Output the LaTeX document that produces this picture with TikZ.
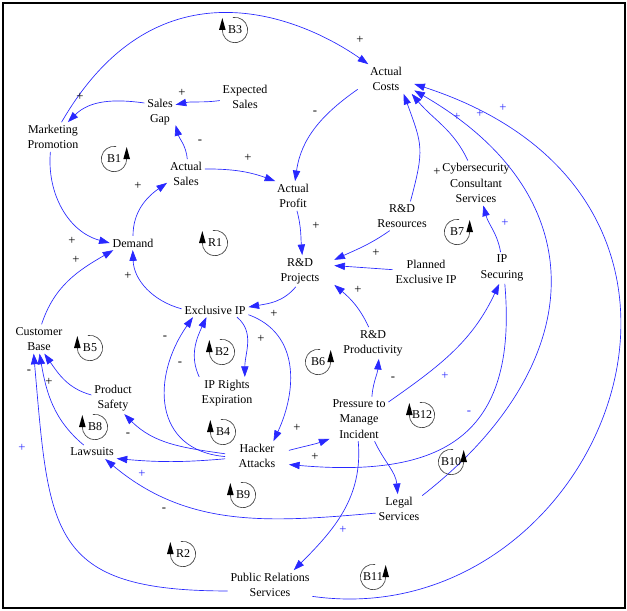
\documentclass[tikz,border=0pt]{standalone}
\usepackage{fontspec}
\setmainfont{Liberation Serif}
\usetikzlibrary{arrows.meta}
\definecolor{linkblue}{RGB}{40,40,255}
\definecolor{loopgray}{RGB}{70,70,70}
\tikzset{
  var/.style={align=center, inner sep=2pt, font=\fontsize{9}{11.5}\selectfont},
  link/.style={draw=linkblue, line width=0.5pt, -{Triangle[length=8pt,width=5.5pt]}},
  pol/.style={inner sep=0pt, font=\fontsize{9.5}{9.5}\selectfont},
  polblue/.style={pol, text=linkblue},
  loopcirc/.style={draw=loopgray, line width=0.5pt},
  looplabel/.style={inner sep=0pt, font=\fontsize{9}{9}\selectfont},
  loopL/.pic={
    \draw[loopcirc] (100:9.5pt) arc[start angle=100, end angle=-180, radius=9.5pt];
    \fill[black] (-12pt,0pt) -- (-7pt,0pt) -- (-9.5pt,9pt) -- cycle;
    \node[looplabel] (-t) at (0,0) {#1};
  },
  loopR/.pic={
    \draw[loopcirc] (80:9.5pt) arc[start angle=80, end angle=360, radius=9.5pt];
    \fill[black] (12pt,0pt) -- (7pt,0pt) -- (9.5pt,9pt) -- cycle;
    \node[looplabel] (-t) at (0,0) {#1};
  },
}
\begin{document}
\begin{tikzpicture}[x=0.75pt,y=-0.75pt]
\useasboundingbox (0,0) rectangle (627,610);
\draw[line width=1.5pt] (2.5,3) rectangle (624.5,607.5);

% variables
\node[var, inner xsep=9pt] (ac) at (386,79) {Actual\\Costs};
\node[var] (es) at (245,97) {Expected\\Sales};
\node[var] (sg) at (160,112) {Sales\\Gap};
\node[var] (mp) at (53,137) {Marketing\\Promotion};
\node[var] (as) at (186,174) {Actual\\Sales};
\node[var] (apf) at (293,196) {Actual\\Profit};
\node[var] (cyb) at (476,183) {Cybersecurity\\Consultant\\Services};
\node[var] (dem) at (133,243) {Demand};
\node[var] (rdr) at (402,216) {R\&D\\Resources};
\node[var, inner xsep=11pt] (rdp) at (300,271) {R\&D\\Projects};
\node[var] (pei) at (426,272) {Planned\\Exclusive IP};
\node[var] (ips) at (502,268) {IP\\Securing};
\node[var] (eip) at (215,310) {Exclusive IP};
\node[var] (cb) at (39,339) {Customer\\Base};
\node[var] (prod) at (373,343) {R\&D\\Productivity};
\node[var] (iprx) at (227,393) {IP Rights\\Expiration};
\node[var] (ps) at (113,398) {Product\\Safety};
\node[var] (prs) at (359,419) {Pressure to\\Manage\\Incident};
\node[var] (law) at (92,452) {Lawsuits};
\node[var, inner xsep=10pt] (hk) at (257,456) {Hacker\\Attacks};
\node[var] (ls) at (399,509) {Legal\\Services};
\node[var] (pr) at (270,585) {Public Relations\\Services};

% connectors
\draw[link] (mp.60) .. controls +(60:145pt) and +(145:60pt) .. (ac.140);
\draw[link] (sg.150) to[out=172,in=45] (mp.45);
\draw[link] (es.188) to[out=188,in=12] (sg.25);
\draw[link] (as.85) to[out=95,in=-75] (sg.-40);
\draw[link] (as.15) to[out=0,in=160] (apf.140);
\draw[link] (ac.200) to[out=215,in=82] (apf.82);
\draw[link] (mp.-100) to[out=-95,in=165] (dem.180);
\draw[link] (dem.90) to[out=90,in=215] (as.205);
\draw[link] (apf.-75) to[out=-75,in=95] (rdp.82);
\draw[link] (rdr.-130) to[out=215,in=25] (rdp.18);
\draw[link] (pei.176) -- (rdp.9);
\draw[link] (rdr.60) to[out=75,in=-70,looseness=1.3] (ac.-40);
\draw[link] (cyb.110) to[out=115,in=-50] (ac.-30);
\draw[link] (ips.95) to[out=100,in=-75] (cyb.-72);
\draw[link] (eip.178) to[out=165,in=-88] (dem.-92);
\draw[link] (cb.80) to[out=72,in=210] (dem.200);
\draw[link] (rdp.-105) to[out=230,in=10] (eip.5);
\draw[link] (eip.-18) to[out=-40,in=90] (iprx.42);
\draw[link] (iprx.150) to[out=115,in=-115] (eip.-140);
\draw[link] (hk.181) to[out=175,in=-125,looseness=1.3] (eip.-162);
\draw[link] (eip.-8) to[out=-20,in=65,looseness=1.1] (hk.42);
\draw[link] (hk.10) to[out=15,in=200] (prs.-146);
\draw[link] (ips.-80) to[out=-85,in=-5,looseness=1.4] (hk.-15);
\draw[link] (hk.176) to[out=172,in=-45] (ps.-55);
\draw[link] (hk.185) to[out=185,in=-5] (law.-15);
\draw[link] (ls.190) to[out=185,in=-40] (law.-28);
\draw[link] (prs.60) to[out=85,in=-95] (prod.-70);
\draw[link] (prod.105) to[out=115,in=-40] (rdp.-22);
\draw[link] (prs.30) to[out=35,in=-115] (ips.-100);
\draw[link] (prs.-55) to[out=-65,in=95] (ls.95);
\draw[link] (prs.-92) to[out=-85,in=45] (pr.32);
\draw[link] (pr.188) to[out=180,in=-85,looseness=1.5] (cb.-110);
\draw[link] (law.140) to[out=140,in=-80] (cb.-88);
\draw[link] (ps.172) to[out=165,in=-55] (cb.-70);
\draw[link] (ls.30) to[out=38,in=-30,looseness=1.34] (ac.-22);
\draw[link] (pr.-15) .. controls +(-8:217pt) and +(-18:288pt) .. (ac.-10);

% polarities
\node[pol] (p1) at (360,40) {+};
\node[pol] (p2) at (80,97) {+};
\node[pol] (p3) at (182,93) {+};
\node[pol] (p4) at (200,142) {-};
\node[pol] (p5) at (248,158) {+};
\node[pol] (p6) at (315,113) {-};
\node[pol] (p7) at (138,186) {+};
\node[pol] (p8) at (72,241) {+};
\node[pol] (p9) at (76,260) {+};
\node[pol] (p10) at (128,276) {+};
\node[pol] (p11) at (316,226) {+};
\node[pol] (p12) at (376,253) {+};
\node[pol] (p13) at (437,172) {+};
\node[pol] (p14) at (358,290) {+};
\node[pol] (p15) at (274,314) {+};
\node[pol] (p16) at (261,339) {+};
\node[pol] (p17) at (165,338) {-};
\node[pol] (p18) at (180,364) {-};
\node[pol] (p19) at (49,382) {+};
\node[pol] (p20) at (29,372) {-};
\node[pol] (p21) at (128,435) {-};
\node[pol] (p22) at (297,428) {+};
\node[pol] (p23) at (315,457) {+};
\node[pol] (p24) at (393,379) {-};
\node[pol] (p25) at (164,510) {-};
\node[polblue] (q1) at (457,117) {+};
\node[polblue] (q2) at (480,114) {+};
\node[polblue] (q3) at (503,108) {+};
\node[polblue] (q4) at (505,223) {+};
\node[polblue] (q5) at (445,376) {+};
\node[polblue] (q6) at (142,474) {+};
\node[polblue] (q7) at (343,530) {+};
\node[polblue] (q8) at (22,448) {+};
\node[polblue] (q9) at (469,413) {-};

% loop markers
\pic (b3) at (235,30) {loopL=B3};
\pic (r1) at (215,243) {loopL=R1};
\pic (b2) at (222,352) {loopL=B2};
\pic (b5) at (90,348) {loopL=B5};
\pic (b8) at (95,427) {loopL=B8};
\pic (b4) at (223,432) {loopL=B4};
\pic (b12) at (422,415) {loopL=B12};
\pic (b9) at (243,495) {loopL=B9};
\pic (r2) at (183,554) {loopL=R2};
\pic (b1) at (114,159) {loopR=B1};
\pic (b7) at (457,232) {loopR=B7};
\pic (b6) at (318,362) {loopR=B6};
\pic (b10) at (451,462) {loopR=B10};
\pic (b11) at (373,577) {loopR=B11};
\end{tikzpicture}
\end{document}
